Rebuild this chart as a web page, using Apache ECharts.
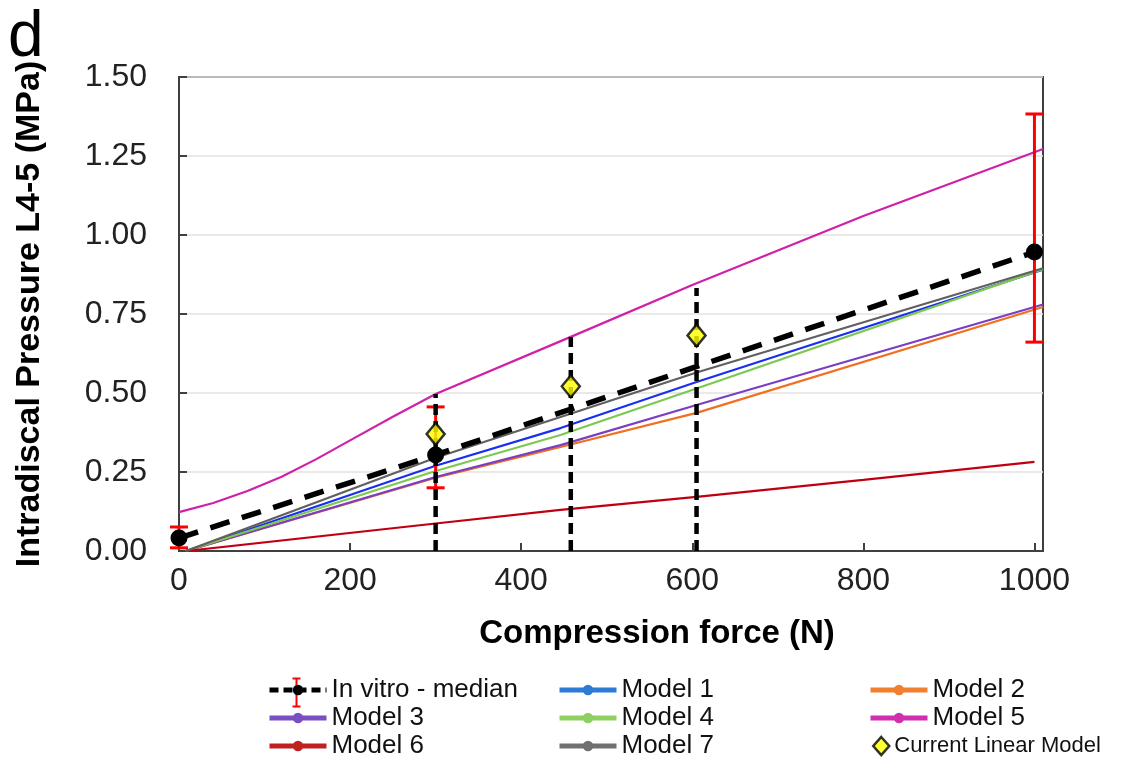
<!DOCTYPE html>
<html><head><meta charset="utf-8">
<script src="https://cdn.jsdelivr.net/npm/echarts@6/dist/echarts.min.js"></script>
<style>html,body{margin:0;padding:0;background:#fff}#c{width:1132px;height:763px}</style>
</head><body><div id="c"></div>
<script>
// ---- data ----
const yTicks = [0, 0.25, 0.5, 0.75, 1.0, 1.25, 1.5];
const xTicks = [0, 200, 400, 600, 800, 1000];
const inVitroMedian = [[0, 0.041], [300, 0.304], [1000, 0.946]];
const inVitroErr = [[0, 0.010, 0.076], [300, 0.200, 0.456], [1000, 0.661, 1.383]];
const model1 = [[8, 0], [300, 0.270], [446, 0.389], [605, 0.535], [1010, 0.890]];
const model2 = [[8, 0], [300, 0.232], [446, 0.329], [605, 0.437], [1010, 0.772]];
const model3 = [[8, 0], [300, 0.234], [446, 0.335], [605, 0.462], [1010, 0.780]];
const model4 = [[8, 0], [300, 0.253], [446, 0.367], [605, 0.514], [1010, 0.892]];
const model5 = [[0, 0.123], [40, 0.152], [80, 0.190], [120, 0.235], [160, 0.290], [200, 0.350], [250, 0.425], [300, 0.497], [460, 0.680], [600, 0.842], [800, 1.060], [1010, 1.272]];
const model6 = [[8, 0], [300, 0.087], [446, 0.130], [605, 0.171], [800, 0.225], [1000, 0.282]];
const model7 = [[8, 0], [300, 0.295], [446, 0.424], [605, 0.565], [1010, 0.895]];
const currentLinear = [[300, 0.370], [458, 0.521], [605, 0.682]];
const refLines = [[300, 0.497], [458, 0.677], [605, 0.832]];

const FONT = 'Liberation Sans, Arial, sans-serif';
const modelDefs = [
  {name: 'Model 1', data: model1, color: '#1a2ef0', legend: '#2e7bd6'},
  {name: 'Model 2', data: model2, color: '#f07020', legend: '#f08030'},
  {name: 'Model 3', data: model3, color: '#7a3fc0', legend: '#7a4fc0'},
  {name: 'Model 4', data: model4, color: '#7cc850', legend: '#8fd060'},
  {name: 'Model 5', data: model5, color: '#d020a8', legend: '#d030b0'},
  {name: 'Model 6', data: model6, color: '#c00010', legend: '#c02020'},
  {name: 'Model 7', data: model7, color: '#606060', legend: '#707070'}
];

const chart = echarts.init(document.getElementById('c'), null, {renderer: 'canvas'});

const series = modelDefs.map(m => ({
  name: m.name, type: 'line', data: m.data, symbol: 'circle', showSymbol: false,
  symbolSize: 10, color: m.color, lineStyle: {width: 2.2, color: m.color}, itemStyle: {color: m.color},
  z: 2, silent: true, animation: false
}));

series.push({
  name: 'errbars', type: 'custom', data: inVitroErr, z: 3, animation: false, silent: true,
  encode: {x: 0, y: [1, 2]},
  renderItem: function (params, api) {
    const x = api.value(0), lo = api.value(1), hi = api.value(2);
    const p1 = api.coord([x, lo]), p2 = api.coord([x, hi]);
    const w = 9;
    const st = {stroke: '#ff0000', lineWidth: 3};
    return {type: 'group', children: [
      {type: 'line', shape: {x1: p1[0], y1: p1[1], x2: p2[0], y2: p2[1]}, style: st},
      {type: 'line', shape: {x1: p1[0] - w, y1: p1[1], x2: p1[0] + w, y2: p1[1]}, style: st},
      {type: 'line', shape: {x1: p2[0] - w, y1: p2[1], x2: p2[0] + w, y2: p2[1]}, style: st}
    ]};
  }
});

series.push({
  name: 'reflines', type: 'custom', data: refLines, z: 4, animation: false, silent: true,
  encode: {x: 0, y: 1},
  renderItem: function (params, api) {
    const x = api.value(0), top = api.value(1);
    const p1 = api.coord([x, 0]), p2 = api.coord([x, top]);
    return {type: 'line', shape: {x1: p1[0], y1: p1[1], x2: p2[0], y2: p2[1]},
      style: {stroke: '#000', lineWidth: 4.5, lineDash: [11, 6]}};
  }
});

series.push({
  name: 'In vitro - median', type: 'line', data: inVitroMedian, symbol: 'circle', symbolSize: 17,
  showSymbol: true, clip: false, z: 5, animation: false, silent: true,
  color: '#000', itemStyle: {color: '#000'}, lineStyle: {color: '#000', width: 5.5, type: [20, 13]}
});

series.push({
  name: 'Current Linear Model', type: 'scatter', data: currentLinear, symbol: 'diamond',
  symbolSize: [18, 22], z: 6, animation: false, silent: true,
  itemStyle: {color: '#ffff00', borderColor: '#000', borderWidth: 2.5}
});

const legText = {fontSize: 26, fontFamily: FONT, color: '#111', lineHeight: 28};
function legItem(name) {
  const m = modelDefs.find(d => d.name === name);
  return {name: name, itemStyle: {color: m.legend}, lineStyle: {color: m.legend, width: 5}};
}
const legBase = {orient: 'vertical', itemWidth: 57, itemHeight: 13, itemGap: 0, textStyle: legText,
  selectedMode: false, inactiveColor: '#ccc', padding: 0};

const option = {
  backgroundColor: '#fff',
  animation: false,
  grid: {left: 179, right: 89, top: 77, bottom: 212, show: true, borderColor: '#404040', borderWidth: 2, backgroundColor: 'transparent'},
  xAxis: {
    type: 'value', min: 0, max: 1010, interval: 200,
    name: 'Compression force (N)', nameLocation: 'middle', nameGap: 66,
    nameTextStyle: {fontSize: 33, fontWeight: 'bold', fontFamily: FONT, color: '#000', padding: [0, 0, 0, 92]},
    axisLine: {show: true, lineStyle: {color: '#404040', width: 2}},
    axisTick: {show: true, inside: true, length: 8, lineStyle: {color: '#404040', width: 2}},
    axisLabel: {fontSize: 32, fontFamily: FONT, color: '#222', margin: 14, showMaxLabel: false,
      formatter: v => (xTicks.indexOf(v) >= 0 ? String(v) : '')},
    splitLine: {show: false}
  },
  yAxis: {
    type: 'value', min: 0, max: 1.5, interval: 0.25,
    name: 'Intradiscal Pressure L4-5 (MPa)', nameLocation: 'middle', nameGap: 132,
    nameTextStyle: {fontSize: 34, fontWeight: 'bold', fontFamily: FONT, color: '#000'},
    axisLine: {show: true, lineStyle: {color: '#404040', width: 2}},
    axisTick: {show: true, inside: true, length: 8, lineStyle: {color: '#404040', width: 2}},
    axisLabel: {fontSize: 32, fontFamily: FONT, color: '#222', margin: 32,
      formatter: v => (yTicks.indexOf(v) >= 0 ? v.toFixed(2) : '')},
    splitLine: {show: true, lineStyle: {color: '#e2e2e2', width: 1.5}}
  },
  legend: [
    Object.assign({}, legBase, {left: 267, top: 676, data: [
      {name: 'In vitro - median', itemStyle: {color: '#000'}, lineStyle: {color: '#000', width: 5, type: [9, 5]}},
      legItem('Model 3'), legItem('Model 6')]}),
    Object.assign({}, legBase, {left: 557, top: 676, data: [legItem('Model 1'), legItem('Model 4'), legItem('Model 7')]}),
    Object.assign({}, legBase, {left: 868, top: 676, data: [legItem('Model 2'), legItem('Model 5')]}),
    Object.assign({}, legBase, {left: 872, top: 732, itemWidth: 16, itemHeight: 18, itemGap: 0,
      textStyle: {fontSize: 22, fontFamily: FONT, color: '#111', lineHeight: 28},
      data: [{name: 'Current Linear Model', icon: 'diamond', itemStyle: {color: '#ffff00', borderColor: '#000', borderWidth: 2.5}}]})
  ],
  graphic: [
    {type: 'text', left: 8, top: 6, style: {text: 'd', fontSize: 64, fontFamily: FONT, fill: '#000'}},
    {type: 'group', left: 290, top: 676, children: [
      {type: 'line', shape: {x1: 7, y1: 0, x2: 7, y2: 28}, style: {stroke: '#ff0000', lineWidth: 2}},
      {type: 'line', shape: {x1: 3, y1: 0, x2: 11, y2: 0}, style: {stroke: '#ff0000', lineWidth: 2}},
      {type: 'line', shape: {x1: 3, y1: 28, x2: 11, y2: 28}, style: {stroke: '#ff0000', lineWidth: 2}}
    ], z: 1}
  ],
  series: series
};
chart.setOption(option);
</script>
</body></html>
